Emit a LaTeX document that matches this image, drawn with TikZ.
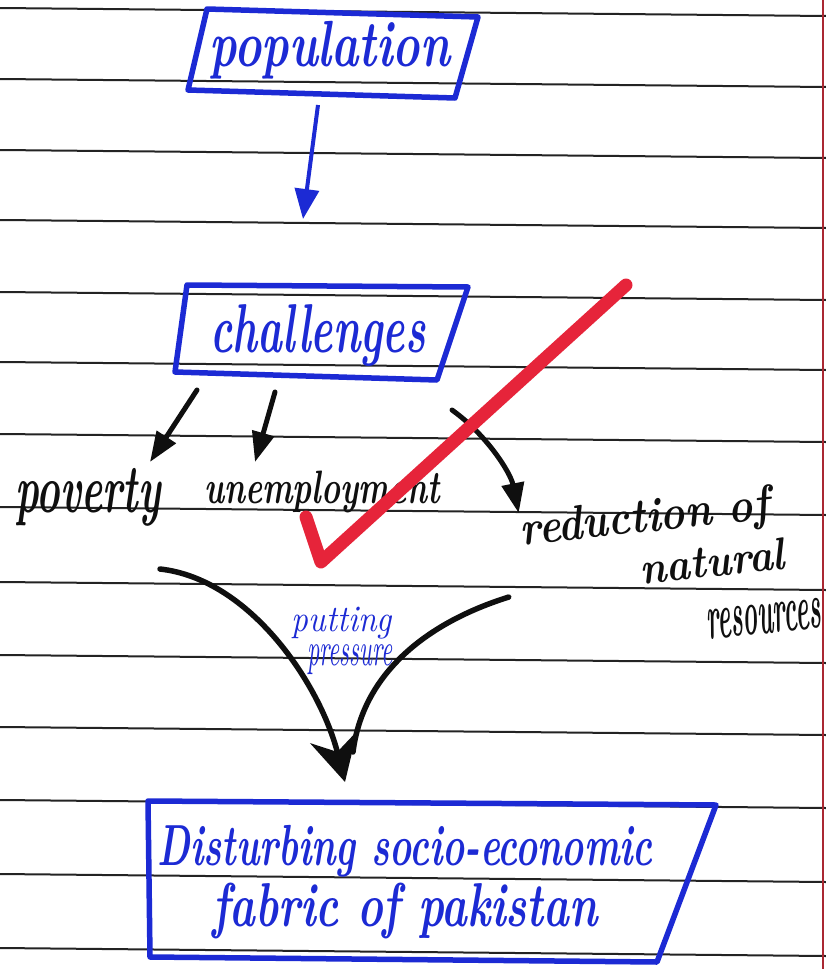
\documentclass[tikz,border=0pt]{standalone}
\usepackage{graphicx}
\usetikzlibrary{arrows.meta,calc}
\definecolor{ink}{RGB}{28,42,212}
\definecolor{pen}{RGB}{15,15,15}
\definecolor{checkred}{RGB}{230,36,58}
\definecolor{ruleline}{RGB}{35,35,35}
\definecolor{margin}{RGB}{170,40,50}
\newcommand{\fitw}[3]{\resizebox*{#1}{#2}{\bfseries\itshape #3}}
\newcommand{\fitl}[3]{\resizebox*{#1}{#2}{\itshape #3}}
\begin{document}
\begin{tikzpicture}[x=1pt,y=-1pt,
  ruled/.style={ruleline,line width=2pt},
  bluebox/.style={ink,line width=5.5pt,line join=round},
  lbl/.style={inner sep=0pt,outer sep=0pt},
  barrow/.style={ink,line width=4pt,-{Triangle[length=30pt,width=24pt]}},
  karrow/.style={pen,line width=5pt,line cap=round,-{Triangle[length=30pt,width=22pt]}},
  bigcurve/.style={pen,line width=5.5pt,line cap=round},
]
\fill[white] (0,0) rectangle (826,969);
\useasboundingbox (0,0) rectangle (826,969);
% ruled paper
\foreach \y in {8,79,150,220,292,362,434,507,582,655,727,800,874,948}
  \draw[ruled] (0,\y) -- (826,\y+8);
\draw[margin,line width=1.3pt] (823,0) -- (823,969);

% boxes
\draw[bluebox] (207,9) -- (478,17) -- (455,98) -- (188,90) -- cycle;
\draw[bluebox] (187,285) -- (468,287) -- (437,380) -- (175,372) -- cycle;
\draw[bluebox] (148,801) -- (716,805) -- (657,962) -- (150,957) -- cycle;

% nodes
\node[lbl,ink,minimum width=270pt,minimum height=80pt] (pop) at (330,50) {\fitw{240pt}{58pt}{population}};
\node[lbl,ink,minimum width=270pt,minimum height=88pt] (chal) at (318,335) {\fitw{215pt}{62pt}{challenges}};
\node[lbl,pen,minimum width=150pt,minimum height=50pt] (pov) at (88,497) {\fitw{145pt}{58pt}{poverty}};
\node[lbl,pen,minimum width=240pt,minimum height=50pt] (unemp) at (322,492) {\fitw{235pt}{42pt}{unemployment}};
\node[lbl,pen,rotate=6] (red) at (645,520) {\fitw{250pt}{44pt}{reduction of}};
\node[lbl,pen,rotate=6] (nat) at (712,561) {\fitw{145pt}{32pt}{natural}};
\node[lbl,pen,rotate=6] (res) at (764,619) {\fitw{114pt}{30pt}{resources}};
\node[lbl,ink] (press) at (342,623) {\fitl{100pt}{32pt}{putting}};
\node[lbl,ink] (press2) at (350,660) {\fitl{85pt}{30pt}{pressure}};
\node[lbl,ink,align=center,minimum width=500pt,minimum height=140pt] (dist) at (405,882)
  {\fitw{495pt}{52pt}{Disturbing socio-economic}\\[4pt]\fitw{385pt}{56pt}{fabric of pakistan}};

% connectors
\draw[barrow] ($(pop.south)+(-12,15)$) -- ($(chal.north)+(-15,-72)$);
\draw[karrow] ($(chal.south)+(-121,11)$) -- ($(pov.north)+(62,-6)$);
\draw[karrow] ($(chal.south)+(-43,13)$) -- ($(unemp.north)+(-67,-5)$);
\draw[karrow] ($(chal.south east)+(-1,31)$) .. controls +(35,25) and +(-8,-40) .. ($(red.west)+(-2,-20)$);
\draw[bigcurve,-{Stealth[length=46pt,width=48pt]}] ($(pov.south)+(72,43)$) .. controls +(90,10) and +(-25,-98) .. ($(dist.north)+(-60,-30)$);
\draw[bigcurve] ($(red.west)+(-12,64)$) .. controls +(-80,25) and +(10,-80) .. ($(dist.north)+(-52,-60)$);

% tick mark
\draw[checkred,line width=13pt,line cap=round,line join=round] (306,517) -- (321,562) -- (626,285);
\end{tikzpicture}
\end{document}
